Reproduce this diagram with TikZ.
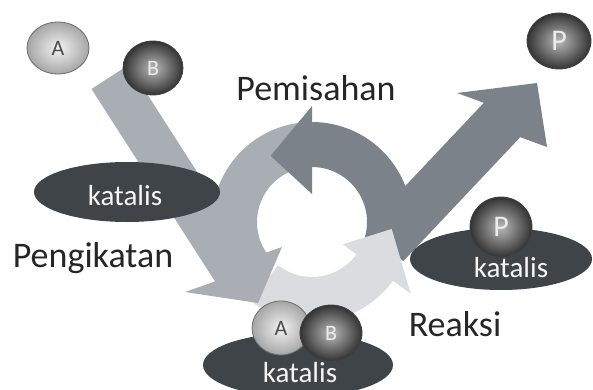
\documentclass[tikz,border=0pt]{standalone}
\usepackage{fontspec}
\setmainfont{Carlito}
\usetikzlibrary{calc,shapes.geometric}
\definecolor{ringlight}{HTML}{DADCDF}
\definecolor{ringmid}{HTML}{A9ADB4}
\definecolor{ringdark}{HTML}{7C8289}
\definecolor{slate}{HTML}{3F4449}

\begin{document}
\begin{tikzpicture}[x=1pt, y=1pt,
  pad/.style={
    ellipse, fill=slate, inner sep=0pt
  },
  padtext/.style={anchor=base, text=white!92!gray, font=\fontsize{29}{29}\selectfont},
  ballA/.style={
    ellipse, draw=gray!85!black, line width=0.8pt, inner sep=0pt,
    inner color=white!90!gray, outer color=gray!70,
    text=black!70, font=\fontsize{22}{22}\selectfont
  },
  ballB/.style={
    ellipse, draw=black!75, line width=0.8pt, inner sep=0pt,
    inner color=gray!55, outer color=black!80,
    text=white!85!gray, font=\fontsize{22}{22}\selectfont
  },
  stage/.style={anchor=base, text=black!85, font=\fontsize{36}{36}\selectfont}
]
  \useasboundingbox (0,0) rectangle (593,389);
  \coordinate (hub) at (312,167);
  % cycle
  \fill[ringmid] ($(hub)+(95:100)$) arc[start angle=95, end angle=225, radius=100]
    -- ($(hub)+(225:55)$) arc[start angle=225, end angle=95, radius=55] -- cycle;
  \fill[ringdark] ($(hub)+(-20:100)$) arc[start angle=-20, end angle=90, radius=100]
    -- ($(hub)+(90:116)$) -- ($(hub)+(122:78)$) -- ($(hub)+(90:28)$)
    -- ($(hub)+(90:55)$) arc[start angle=90, end angle=-20, radius=55] -- cycle;
  \fill[ringdark] (366.8,162.2) -- (483.8,286.2) -- (457,296) -- (537,306)
    -- (547,242) -- (520.2,251.8) -- (403.2,127.8) -- cycle;
  \fill[ringlight] ($(hub)+(232:100)$) arc[start angle=232, end angle=324, radius=100]
    -- ($(hub)+(324:122)$) -- ($(hub)+(355:80)$) -- ($(hub)+(324:38)$)
    -- ($(hub)+(324:55)$) arc[start angle=324, end angle=232, radius=55] -- cycle;
  \fill[ringmid] (91.5,300) -- (128.5,324) -- (252,131.4) -- (282,142)
    -- (258,86) -- (185,97) -- (215,107.6) -- cycle;

  % catalyst pads
  \node[pad, minimum width=186pt, minimum height=60pt] (padL) at (127,197) {};
  \node[pad, minimum width=182pt, minimum height=62pt] (padR) at (501,130) {};
  \node[pad, minimum width=190pt, minimum height=64pt] (padB) at (298,24) {};
  \node[padtext] (kL) at (125,184) {katalis};
  \node[padtext] (kR) at (511,112) {katalis};
  \node[padtext] (kB) at (300,7) {katalis};

  % molecules
  \node[ballA, minimum width=62pt, minimum height=52pt] (A) at (58,341) {A};
  \node[ballB, minimum width=60pt, minimum height=54pt] (B) at (153,321) {B};
  \node[ballB, minimum width=64pt, minimum height=56pt,
    font=\fontsize{30}{30}\selectfont] (P) at (559,348) {P};
  \node[ballB, minimum width=62pt, minimum height=60pt,
    font=\fontsize{30}{30}\selectfont] (Pk) at (501,162) {P};
  \node[ballA, minimum width=58pt, minimum height=54pt] (Ak) at (281,61) {A};
  \node[ballB, minimum width=62pt, minimum height=56pt] (Bk) at (331,56) {B};

  % stages
  \node[stage] (sep) at (316,289) {Pemisahan};
  \node[stage] (bind) at (93,122) {Pengikatan};
  \node[stage] (react) at (455,53) {Reaksi};
\end{tikzpicture}
\end{document}
